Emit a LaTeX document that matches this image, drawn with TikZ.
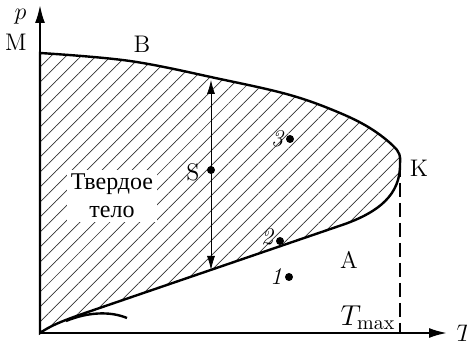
\documentclass[tikz,border=0pt]{standalone}
\usepackage{fontspec}
\newfontfamily\cyrfont{Liberation Serif}
\usetikzlibrary{arrows.meta,patterns.meta,positioning}
\tikzset{
  axisline/.style={line width=1pt, -{Latex[length=9pt,width=5pt]}},
  phaseline/.style={line width=1.2pt},
  hatchfill/.style={pattern={Lines[angle=45,distance=5.3pt,line width=0.35pt]},
    pattern color=black!80},
  dotmark/.style={circle, fill, inner sep=0pt, minimum size=4pt},
  letterlabel/.style={font=\large},
  numlabel/.style={font=\large\itshape, inner sep=1pt},
}

\begin{document}
\begin{tikzpicture}[x=0.5pt,y=-0.5pt]
  \useasboundingbox (0,0) rectangle (467,347);

  \coordinate (O) at (40,333);
  \coordinate (K) at (400,163);
  \coordinate (stop) at (211,80);
  \coordinate (sbot) at (211,270);

  % hatched region between the two branches
  \draw[phaseline, hatchfill] plot[smooth, tension=0.6] coordinates {
    (40,53) (130,61) (220,79) (290,95) (340,113) (373,130) (397,150) (400,163)}
    .. controls (401,195) and (378,212) .. (345,224)
    -- (85,313) .. controls (62,321) and (50,326) .. (O) -- cycle;

  % short branch near the origin
  \draw[phaseline] (66,321) .. controls (88,312) and (110,311) .. (127,318);

  % axes
  \draw[axisline] (O) -- (40,5) node[pos=1, anchor=east, font=\large, xshift=-3pt, yshift=-6pt] (pax) {$p$};
  \draw[axisline] (O) -- (447,333) node[right=1pt, font=\large] (tax) {$T$};
  \draw[dashed, line width=0.8pt, dash pattern=on 7pt off 3pt] (K) -- (K |- O);

  \node[fill=white, inner sep=2pt, align=center, font=\cyrfont\large] (solid) at (112,196) {Твердое\\тело};

  \draw[thin, {Latex[length=7pt,width=4pt]}-{Latex[length=7pt,width=4pt]}] (sbot) -- (stop);

  \node[dotmark] (p3) at (290,139) {};
  \node[dotmark] (pS) at (211,170) {};
  \node[dotmark] (p2) at (280,241) {};
  \node[dotmark] (p1) at (289,277) {};
  \node[numlabel, left=0pt of p3] (l3) {3};
  \node[letterlabel, left=0pt of pS, yshift=-1pt] (lS) {S};
  \node[numlabel, left=0pt of p2, yshift=2pt] (l2) {2};
  \node[numlabel, left=0pt of p1] (l1) {1};

  \node[letterlabel] (lM) at (16,42) {M};
  \node[letterlabel] (lB) at (142,44) {B};
  \node[letterlabel] (lK) at (419,168) {K};
  \node[letterlabel] (lA) at (349,260) {A};
  \node[font=\Large] (tmax) at (368,318) {$T_{\max}$};
\end{tikzpicture}
\end{document}
